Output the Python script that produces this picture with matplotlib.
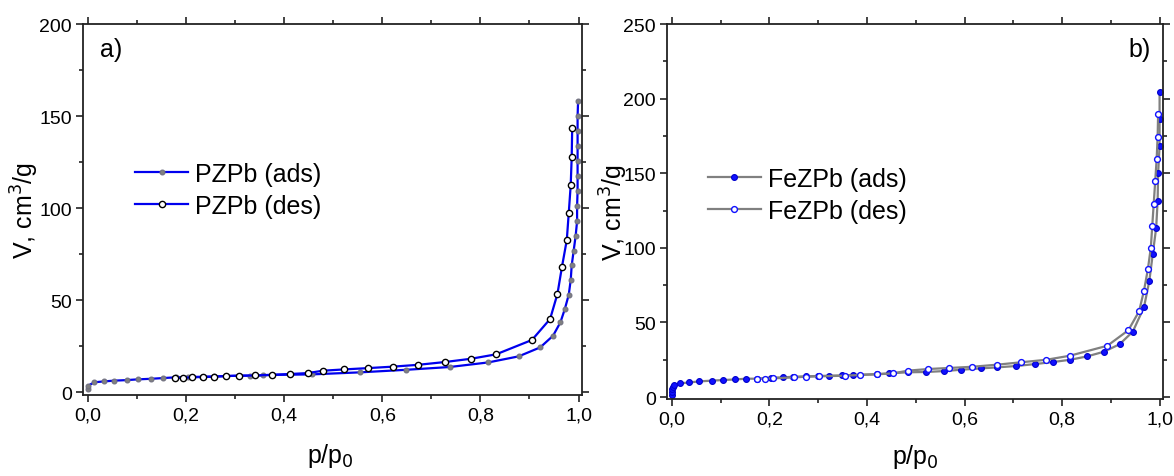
import numpy as np
import matplotlib.pyplot as plt
from matplotlib.ticker import MultipleLocator, FuncFormatter

plt.rcParams['font.family'] = ['Liberation Sans', 'DejaVu Sans']

# PZPb (panel a)
pz_ads_p = [0.0, 0.0, 0.013, 0.033, 0.054, 0.079, 0.102, 0.128, 0.153, 0.179, 0.204, 0.233,
            0.257, 0.282, 0.308, 0.331, 0.357, 0.375, 0.456, 0.554, 0.649, 0.737, 0.816,
            0.878, 0.922, 0.948, 0.963, 0.972, 0.980, 0.984, 0.986, 0.990, 0.994, 0.997,
            0.997, 0.998, 0.998, 0.998, 0.998, 0.998, 0.998, 0.999]
pz_ads_v = [1.6, 3.4, 5.3, 5.8, 6.2, 6.5, 6.9, 7.2, 7.6, 8.0, 8.2, 8.3,
            8.5, 8.7, 8.9, 8.9, 9.1, 9.3, 9.6, 10.7, 12.1, 13.6, 16.1,
            19.4, 24.3, 30.6, 37.9, 45.1, 52.9, 60.9, 68.8, 76.8, 84.8, 92.8,
            100.9, 109.1, 117.2, 125.4, 133.5, 141.7, 149.8, 158.0]
pz_des_p = [0.987, 0.986, 0.984, 0.980, 0.976, 0.966, 0.957, 0.942, 0.905, 0.832, 0.781,
            0.727, 0.673, 0.621, 0.570, 0.522, 0.479, 0.448, 0.411, 0.375, 0.341, 0.308,
            0.282, 0.257, 0.234, 0.213, 0.194, 0.177]
pz_des_v = [143.3, 127.7, 112.5, 97.3, 82.6, 67.8, 53.4, 39.7, 28.3, 20.5, 18.1,
            16.3, 14.8, 13.8, 13.0, 12.3, 11.6, 10.3, 9.8, 9.4, 9.0, 8.9,
            8.7, 8.3, 8.2, 8.0, 7.8, 7.6]

# FeZPb (panel b)
fe_ads_p = [0.0, 0.0, 0.0, 0.002, 0.005, 0.017, 0.036, 0.056, 0.082, 0.105, 0.129, 0.153,
            0.174, 0.203, 0.227, 0.249, 0.274, 0.299, 0.323, 0.348, 0.371, 0.421, 0.446,
            0.484, 0.522, 0.557, 0.593, 0.633, 0.667, 0.706, 0.744, 0.782, 0.817, 0.852,
            0.886, 0.918, 0.945, 0.968, 0.979, 0.986, 0.993, 0.996, 0.997, 1.0, 1.0, 1.0]
fe_ads_v = [1.5, 3.1, 5.4, 6.9, 8.1, 9.2, 9.8, 10.5, 11.0, 11.4, 11.8, 12.3,
            12.3, 13.0, 13.2, 13.6, 13.9, 14.1, 14.3, 14.5, 14.8, 15.4, 15.9,
            16.6, 16.8, 17.4, 18.3, 19.2, 19.9, 20.8, 22.1, 23.5, 25.0, 27.3,
            30.4, 35.4, 43.8, 60.2, 77.9, 95.8, 113.4, 131.5, 149.9, 168.2, 186.1, 204.5]
fe_des_p = [0.997, 0.996, 0.994, 0.991, 0.988, 0.985, 0.982, 0.976, 0.968, 0.958, 0.936,
            0.893, 0.816, 0.768, 0.716, 0.667, 0.616, 0.569, 0.526, 0.484, 0.454, 0.420,
            0.385, 0.354, 0.301, 0.275, 0.250, 0.207, 0.190, 0.174]
fe_des_v = [189.7, 174.5, 159.5, 144.5, 129.7, 114.8, 100.0, 85.7, 71.3, 57.5, 44.8,
            34.4, 27.7, 25.0, 23.3, 21.7, 20.3, 19.5, 18.8, 17.7, 15.9, 15.2,
            14.8, 14.3, 13.9, 13.6, 13.2, 12.5, 12.3, 12.3]

fig = plt.figure(figsize=(11.74, 4.77), dpi=100)
W, H = 1174, 477
axA = fig.add_axes([83 / W, (H - 396) / H, (582 - 83) / W, (396 - 25) / H])
axB = fig.add_axes([667 / W, (H - 400) / H, (1163 - 667) / W, (400 - 25) / H])

comma = FuncFormatter(lambda v, pos: f"{v:.1f}".replace('.', ','))


def style(ax, ymax, ymin):
    ax.set_xlim(-0.01, 1.007)
    ax.set_ylim(ymin, ymax)
    ax.xaxis.set_major_locator(MultipleLocator(0.2))
    ax.xaxis.set_minor_locator(MultipleLocator(0.1))
    ax.yaxis.set_major_locator(MultipleLocator(50))
    ax.yaxis.set_minor_locator(MultipleLocator(25))
    ax.xaxis.set_major_formatter(comma)
    ax.tick_params(which='both', direction='out', top=True, right=True,
                   labelsize=14, color='#222222', labelcolor='black', width=1.2)
    ax.tick_params(which='major', length=5, pad=3)
    ax.tick_params(which='minor', length=3)
    for s in ax.spines.values():
        s.set_linewidth(1.3)
        s.set_color('#222222')
    ax.set_xlabel("p/p$_0$", fontsize=18)
    ax.set_ylabel("V, cm$^3$/g", fontsize=18)


axA.plot(pz_ads_p, pz_ads_v, color='#0000ee', lw=1.6, marker='o', ms=3.5,
         mfc='#808080', mec='#707080', mew=0.8, label='PZPb (ads)')
axA.plot(pz_des_p, pz_des_v, color='#0000ee', lw=1.6, marker='o', ms=4.5,
         mfc='white', mec='black', mew=1.0, label='PZPb (des)')
style(axA, 200, -1.6)
axA.xaxis.set_label_coords(0.495, -0.125)
axA.yaxis.set_label_coords(-0.085, 0.5)
axA.text(0.035, 0.965, "a)", transform=axA.transAxes, fontsize=18, va='top')
axA.legend(loc='upper left', bbox_to_anchor=(0.085, 0.655), frameon=False, fontsize=18,
           handlelength=2.1, handletextpad=0.3, labelspacing=0.32, borderaxespad=0)

axB.plot(fe_ads_p, fe_ads_v, color='#808080', lw=1.6, marker='o', ms=4.2,
         mfc='#1010ff', mec='#0000cc', mew=0.8, label='FeZPb (ads)')
axB.plot(fe_des_p, fe_des_v, color='#808080', lw=1.6, marker='o', ms=4.2,
         mfc='white', mec='#1010ff', mew=1.0, label='FeZPb (des)')
style(axB, 250, -1.3)
axB.xaxis.set_label_coords(0.5, -0.115)
axB.yaxis.set_label_coords(-0.075, 0.5)
axB.text(0.975, 0.965, "b)", transform=axB.transAxes, fontsize=18, va='top', ha='right')
axB.legend(loc='upper left', bbox_to_anchor=(0.063, 0.645), frameon=False, fontsize=18,
           handlelength=2.1, handletextpad=0.3, labelspacing=0.32, borderaxespad=0)

fig.savefig("out.png", dpi=100)
